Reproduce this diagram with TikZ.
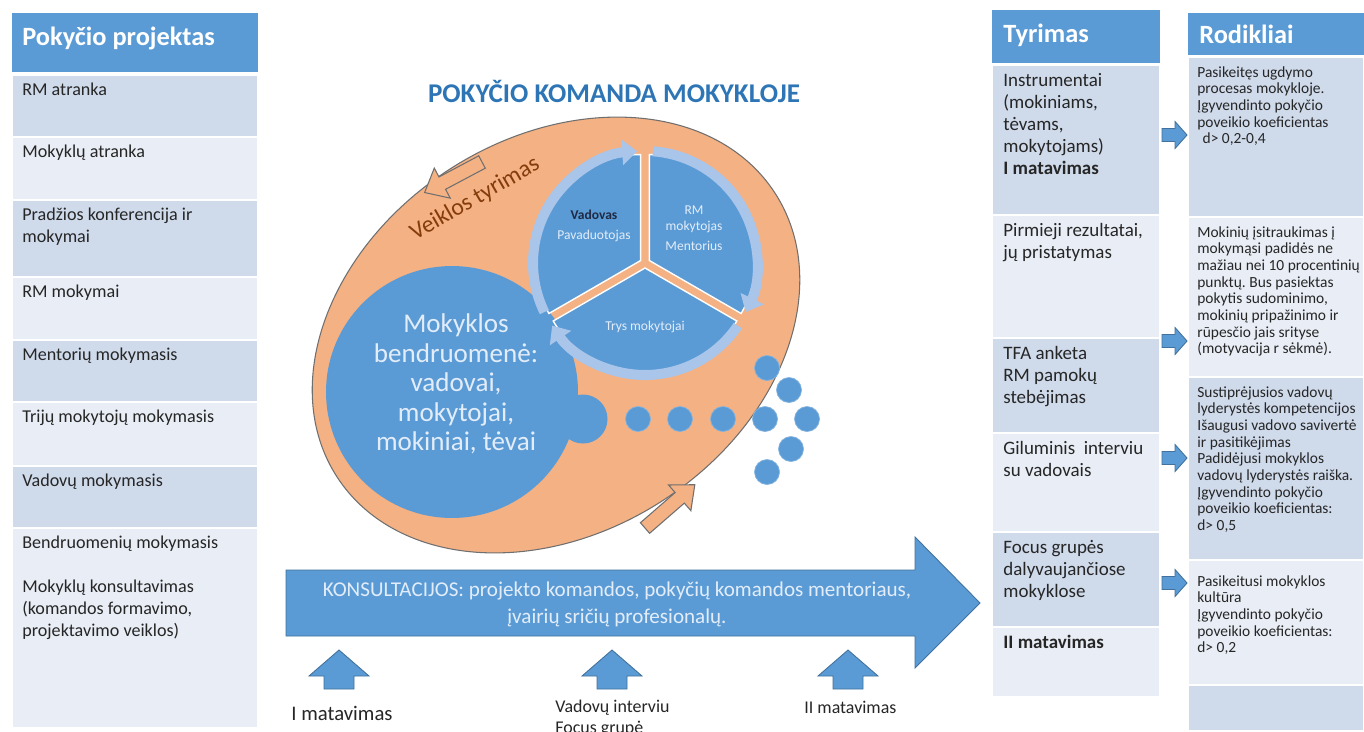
\documentclass[tikz,border=0pt]{standalone}
\usepackage{fontspec}
\setmainfont{Carlito}
\usetikzlibrary{arrows.meta,calc}
\frenchspacing

\definecolor{hdrblue}{HTML}{5B9BD5}
\definecolor{rowdark}{HTML}{CFDAEB}
\definecolor{rowlight}{HTML}{E9EEF6}
\definecolor{titleblue}{HTML}{2E75B6}
\definecolor{orangefill}{HTML}{F4B183}
\definecolor{ringblue}{HTML}{A9C5EA}
\definecolor{edgeblue}{HTML}{41719C}
\definecolor{brownT}{HTML}{843C0C}
\definecolor{paletxt}{HTML}{E2EDF9}
\definecolor{navyT}{HTML}{1F2A44}
\definecolor{ellgray}{HTML}{6F6F6F}

\begin{document}
\begin{tikzpicture}
  [x=0.02cm,y=-0.02cm,
   hdrT/.style={anchor=base west,text=white,inner sep=0,font=\fontsize{15}{18}\selectfont\bfseries},
   cellT/.style={anchor=north west,align=left,inner sep=0,text=black!85,font=\fontsize{10.3}{12.4}\selectfont},
   smallT/.style={anchor=north west,align=left,inner sep=0,text=black!85,font=\fontsize{8.8}{9.5}\selectfont},
   pieT/.style={align=center,text=paletxt,inner sep=0,font=\fontsize{7.7}{9}\selectfont},
   blueA/.style={fill=hdrblue,draw=edgeblue,line width=0.5pt},
   orangeA/.style={fill=orangefill,draw=ellgray,line width=0.6pt},
   ring/.style={draw=ringblue,line width=0.2cm,-{Triangle[width=0.5cm,length=0.3cm]}},
   bubble/.style={circle,fill=hdrblue,draw=hdrblue!75!white,line width=0.4pt,minimum size=0.5cm,inner sep=0}]

  \useasboundingbox (0,0) rectangle (1364,731);
  \fill[white] (0,0) rectangle (1364,731);

  % left table
  \fill[hdrblue] (12,13) rectangle (258,72);
  \node[hdrT] (projHdr) at (22,45) {Pokyčio projektas};
  \foreach \ya/\yb/\col/\txt [count=\i] in
    {75/137/rowdark/{RM atranka},
     137/200/rowlight/{Mokyklų atranka},
     200/277/rowdark/{Pradžios konferencija ir\\mokymai},
     277/340/rowlight/{RM mokymai},
     340/402/rowdark/{Mentorių mokymasis},
     402/466/rowlight/{Trijų mokytojų mokymasis},
     466/528/rowdark/{Vadovų mokymasis},
     528/728/rowlight/{Bendruomenių mokymasis\\[12.4pt]Mokyklų konsultavimas\\(komandos formavimo,\\projektavimo veiklos)}}
  {
    \path[fill=\col,draw=white,line width=0.6pt] (12,\ya) rectangle (258,\yb);
    \node[cellT] (proj\i) at (22,\ya+8) {\txt};
  }

  % tyrimas table
  \fill[hdrblue] (992,10) rectangle (1160,63);
  \node[hdrT] (tyrHdr) at (1003,42) {Tyrimas};
  \foreach \ya/\yb/\col/\txt [count=\i] in
    {65/215/rowdark/{Instrumentai\\(mokiniams,\\tėvams,\\mokytojams)\\\textbf{I matavimas}},
     215/338/rowlight/{Pirmieji rezultatai,\\jų pristatymas},
     338/433/rowdark/{TFA anketa\\RM pamokų\\stebėjimas},
     433/532/rowlight/{Giluminis\ \ interviu\\su vadovais},
     532/627/rowdark/{Focus grupės\\dalyvaujančiose\\mokyklose},
     627/697/rowlight/{\textbf{II matavimas}}}
  {
    \path[fill=\col,draw=white,line width=0.6pt] (992,\ya) rectangle (1160,\yb);
    \node[cellT,font=\fontsize{10.8}{12.5}\selectfont] (tyr\i) at (1003,\ya+8) {\txt};
  }

  % rodikliai table
  \fill[hdrblue] (1188,13) rectangle (1364,55);
  \node[hdrT] (rodHdr) at (1199,43) {Rodikliai};
  \foreach \ya/\yb/\col/\txt [count=\i] in
    {57/217/rowdark/{Pasikeitęs ugdymo\\procesas mokykloje.\\Įgyvendinto pokyčio\\poveikio koeficientas\\\hspace{3pt}d> 0,2-0,4},
     217/377/rowlight/{Mokinių įsitraukimas į\\mokymąsi padidės ne\\mažiau nei 10 procentinių\\punktų. Bus pasiektas\\pokytis sudominimo,\\mokinių pripažinimo ir\\rūpesčio jais srityse\\(motyvacija r sėkmė).},
     377/560/rowdark/{Sustiprėjusios vadovų\\lyderystės kompetencijos\\Išaugusi vadovo savivertė\\ir pasitikėjimas\\Padidėjusi mokyklos\\vadovų lyderystės raiška.\\Įgyvendinto pokyčio\\poveikio koeficientas:\\d> 0,5},
     560/685/rowlight/{\mbox{}\\Pasikeitusi mokyklos\\kultūra\\Įgyvendinto pokyčio\\poveikio koeficientas:\\d> 0,2},
     685/731/rowdark/{}}
  {
    \path[fill=\col,draw=white,line width=0.6pt] (1188,\ya) rectangle (1364,\yb);
    \node[smallT] (rod\i) at (1197,\ya+9) {\txt};
  }

  % small arrows tyrimas -> rodikliai
  \foreach \y in {135,341,458,583}
    \draw[blueA] (1162,\y-6.5) -- (1175,\y-6.5) -- (1175,\y-13.5) -- (1187,\y)
                 -- (1175,\y+13.5) -- (1175,\y+6.5) -- (1162,\y+6.5) -- cycle;

  % title
  \node[text=titleblue,font=\fontsize{15.4}{18}\selectfont\bfseries] (title) at (614,91) {POKYČIO KOMANDA MOKYKLOJE};

  % ellipse
  \coordinate (E) at (556,335);
  \draw[fill=orangefill,draw=ellgray,line width=0.6pt,rotate around={33:(E)}]
    (E) ellipse [x radius=5.22cm, y radius=3.94cm];

  \draw[orangeA,shift={(482,162)},rotate=208]
    (0,-7) -- (45,-7) -- (45,-17) -- (65,0) -- (45,17) -- (45,7) -- (0,7) -- cycle;
  \draw[orangeA,shift={(645,528)},rotate=41]
    (0,-7) -- (46,-7) -- (46,-17) -- (66,0) -- (46,17) -- (46,7) -- (0,7) -- cycle;

  \node[rotate=30,text=brownT,font=\fontsize{13.5}{16}\selectfont] (veikla) at (475,199) {Veiklos tyrimas};

  % school community
  \node[circle,fill=hdrblue,minimum size=0.98cm,inner sep=0] (bump) at (583,419) {};
  \node[circle,fill=hdrblue,minimum size=5.04cm,inner sep=0] (comm) at (452,392) {};
  \node[align=center,text=paletxt,font=\fontsize{15.4}{16.7}\selectfont] (commT) at (456,384)
    {Mokyklos\\bendruomenė:\\vadovai,\\mokytojai,\\mokiniai, tėvai};

  % team pie
  \coordinate (P) at (645,263);
  \foreach \a/\b in {90/210,-30/90,210/330}
    \fill[hdrblue,draw=white,line width=0.8pt] ($(P)+({(\a+\b)/2}:0.1cm)$) -- ++(\a:2.12cm)
      arc[start angle=\a, end angle=\b, radius=2.12cm] -- cycle;
  \foreach \g in {210,90,-30}
    \draw[ring] ($(P)+({\g-4}:2.24cm)$) arc[start angle=\g-4, end angle=\g-116, radius=2.24cm];

  \node[pieT,font=\fontsize{7.7}{11.3}\selectfont] (vad) at (594,226) {\textcolor{navyT}{\textbf{Vadovas}}\\Pavaduotojas};
  \node[pieT] (rm) at (694,228) {RM\\mokytojas\\[2.5pt]Mentorius};
  \node[pieT] (trys) at (645,327) {Trys mokytojai};

  \foreach \x/\y [count=\i] in {767/368,789/390,638/419,680/419,723/419,765/419,807/419,791/449,767/472}
    \node[bubble] (dot\i) at (\x,\y) {};

  % consultations arrow
  \draw[blueA] (286,570) -- (915,570) -- (915,537) -- (980,603) -- (915,668) -- (915,636) -- (286,636) -- cycle;
  \node[align=center,text=paletxt,font=\fontsize{12}{15.3}\selectfont] (consult) at (617,604)
    {KONSULTACIJOS: projekto komandos, pokyčių komandos mentoriaus,\\įvairių sričių profesionalų.};

  % measurement arrows
  \foreach \x in {339,612,848}
    \draw[blueA] (\x-15,689) -- (\x-15,676) -- (\x-30,676) -- (\x,650) -- (\x+30,676) -- (\x+15,676) -- (\x+15,689) -- cycle;

  \node[anchor=base west,inner sep=0,text=black!85,font=\fontsize{11.8}{14}\selectfont] (meas1) at (291,720) {I matavimas};
  \node[anchor=north west,align=left,inner sep=0,text=black!85,font=\fontsize{10.2}{12}\selectfont] (intv) at (555,700) {Vadovų interviu\\Focus grupė};
  \node[anchor=base west,inner sep=0,text=black!85,font=\fontsize{10.2}{12}\selectfont] (meas2) at (804,713) {II matavimas};
\end{tikzpicture}
\end{document}
